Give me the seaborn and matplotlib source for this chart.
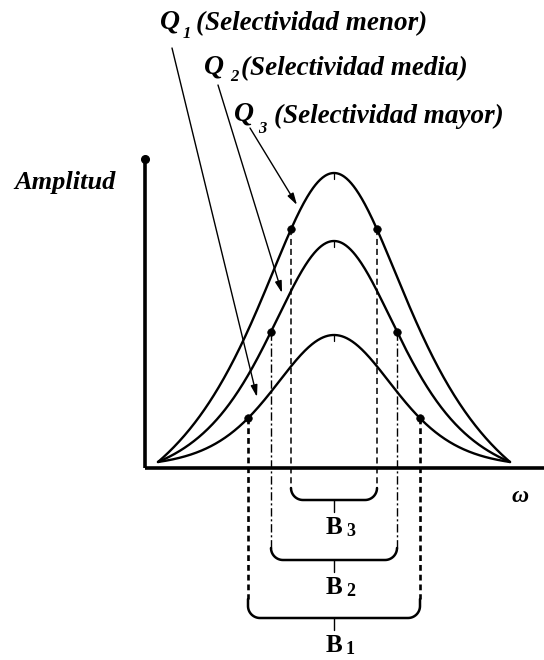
import numpy as np
import pandas as pd
import matplotlib
matplotlib.use("Agg")
import matplotlib.pyplot as plt
import seaborn as sns

# unidades del diagrama: pixeles medidos desde el origen de los ejes
w_ini, w_fin = 13, 365
w0 = 189
base = 6
curvas = ["Q1", "Q2", "Q3"]
picos = [127, 221, 289]
escalas = [163, 125, 105]
exponentes = [4, 2, 1]
semi_bandas = [86, 63, 43]
etiquetas_q = ["(Selectividad menor)", "(Selectividad media)", "(Selectividad mayor)"]
etiquetas_b = ["1", "2", "3"]
nivel_llave = [-150, -92, -32]
fin_guion = [-131, -80, -20]

# estilo de las lineas de caida (Q1 grueso, Q2 raya-punto, Q3 rayado)
estilos = [(0, (2.2, 1.5)), (0, (6, 2, 1.5, 2)), (0, (4, 2.5))]
grosores = [1.9, 1.0, 1.1]


def respuesta(w, A, s, n):
    g = (1 + ((w - w0) / s) ** 2) ** (-n)
    ge = (1 + ((w_fin - w0) / s) ** 2) ** (-n)
    return base + A * (g - ge) / (1 - ge)


w = np.linspace(w_ini, w_fin, 600)
filas = []
for q, A, s, n in zip(curvas, picos, escalas, exponentes):
    filas.append(pd.DataFrame({"w": w, "amp": respuesta(w, A, s, n), "curva": q}))
df = pd.concat(filas)

sns.set_style("white")
plt.rcParams["text.color"] = "black"
fig = plt.figure(figsize=(5.44, 6.60), dpi=100)
ax = fig.add_axes([0, 0, 1, 1])
ax.set_xlim(-145, 399)
ax.set_ylim(-192, 468)
ax.axis("off")

sns.lineplot(data=df, x="w", y="amp", hue="curva", palette=["black"] * 3,
             linewidth=1.7, legend=False, ax=ax, sort=False)

# ejes
ax.plot([0, 0], [0, 309], color="black", lw=2.6, solid_capstyle="butt")
ax.plot([0, 399], [0, 0], color="black", lw=2.6, solid_capstyle="butt")
ax.plot([0], [309], "o", color="black", ms=5.5)

# puntos de media potencia, lineas de caida y llaves
th = np.linspace(np.pi, 1.5 * np.pi, 20)
r = 12
for A, s, n, hb, ls, lw, yb, yf, lab in zip(picos, escalas, exponentes, semi_bandas,
                                             estilos, grosores, nivel_llave, fin_guion,
                                             etiquetas_b):
    xs = np.array([w0 - hb, w0 + hb])
    ys = respuesta(xs, A, s, n)
    sns.scatterplot(x=xs, y=ys, color="black", s=30, ax=ax, zorder=5, edgecolor="black")
    for x, y in zip(xs, ys):
        ax.plot([x, x], [y, yf], color="black", lw=lw, linestyle=ls)
    # tick en el pico
    ax.plot([w0, w0], [base + A - 6, base + A], color="black", lw=0.9)
    # llave
    x0, x1 = xs
    lx = x0 + r + r * np.cos(th)
    ly = yb + r + r * np.sin(th)
    rx = x1 - r - r * np.cos(th)
    bx = np.concatenate([[x0], lx, rx[::-1], [x1]])
    by = np.concatenate([[yf], ly, ly[::-1], [yf]])
    ax.plot(bx, by, color="black", lw=1.8)
    ax.plot([w0, w0], [yb, yb - 12], color="black", lw=1.0)
    ax.text(w0, yb - 27, "B", fontsize=18, fontweight="bold", family="Liberation Serif",
            ha="center", va="center", color="black")
    ax.text(w0 + 12, yb - 32, lab, fontsize=13, fontweight="bold", family="Liberation Serif",
            ha="left", va="center", color="black")

# etiquetas Q con flechas
fuente = dict(family="Liberation Serif", fontweight="bold", style="italic", color="black")
pos_q = [(15, 446), (59, 401), (89, 354)]
pos_sub = [(38, 434), (85, 391), (113, 339)]
pos_txt = [(51, 444), (96, 399), (129, 352)]
flechas = [((27, 420), (112, 71)), ((73, 383), (137, 175)), ((105, 340), (152, 263))]
for i in range(3):
    ax.text(*pos_q[i], "Q", fontsize=20, ha="left", va="center", **fuente)
    ax.text(*pos_sub[i], etiquetas_b[i], fontsize=12, ha="left", va="center", **fuente)
    ax.text(*pos_txt[i], etiquetas_q[i], fontsize=19.5, ha="left", va="center", **fuente)
    ini, fin = flechas[i]
    ax.annotate("", xy=fin, xytext=ini,
                arrowprops=dict(arrowstyle="-|>,head_length=0.7,head_width=0.2",
                                color="black", lw=1.0, shrinkA=0, shrinkB=0))

ax.text(-131, 286, "Amplitud", fontsize=19, ha="left", va="center", **fuente)
ax.text(366, -29, "ω", fontsize=17, ha="left", va="center", **fuente)

fig.savefig("out.png", dpi=100)
